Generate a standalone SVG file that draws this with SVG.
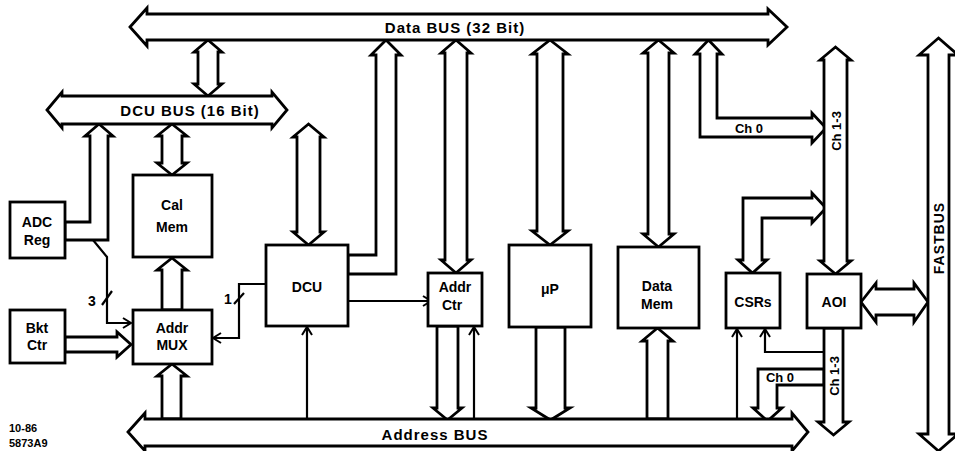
<svg xmlns="http://www.w3.org/2000/svg" width="955" height="451" viewBox="0 0 955 451">
<defs>
<style>
.s{fill:#fff;stroke:#000;stroke-width:2.8;stroke-linejoin:miter}
.b{fill:#fff;stroke:#000;stroke-width:2.8}
.t{fill:none;stroke:#000;stroke-width:2.2}
.l{font-family:"Liberation Sans",Arial,sans-serif;font-weight:bold;font-size:14px;fill:#000;text-anchor:middle}
.bus{font-family:"Liberation Sans",Arial,sans-serif;font-weight:bold;font-size:15px;letter-spacing:1px;fill:#000;text-anchor:middle}
.sm{font-family:"Liberation Sans",Arial,sans-serif;font-weight:bold;font-size:13px;fill:#000;text-anchor:middle}
.ft{font-family:"Liberation Sans",Arial,sans-serif;font-weight:bold;font-size:11px;fill:#000}
</style>
<marker id="v" viewBox="-10 -7 12 14" markerWidth="12" markerHeight="14" refX="0" refY="0" orient="auto" markerUnits="userSpaceOnUse">
<path d="M-8,-5 L0,0 L-8,5" fill="none" stroke="#000" stroke-width="2"/>
</marker>
</defs>
<rect width="955" height="451" fill="#fff"/>

<g id="connectors">
<path class="s" d="M208,40 L222,52 L218,52 L218,84 L222,84 L208,96 L194,84 L198,84 L198,52 L194,52 Z"/>
<path class="s" d="M172,124 L187,136 L182,136 L182,163 L187,163 L172,175 L157,163 L162,163 L162,136 L157,136 Z"/>
<path class="s" d="M172,258 L187,270 L182,270 L182,310 L162,310 L162,270 L157,270 Z"/>
<path class="s" d="M308.5,124 L324,137 L320,137 L320,232 L324,232 L308.5,245 L293,232 L297,232 L297,137 L293,137 Z"/>
<path class="s" d="M99,124 L113,136 L108,136 L108,240 L65,240 L65,222 L90,222 L90,136 L85,136 Z"/>
<path class="s" d="M348,255 L376,255 L376,55 L371,55 L386,40 L401,55 L396,55 L396,274 L348,274 Z"/>
<path class="s" d="M456,40 L471,53 L467,53 L467,260 L471,260 L456,273 L441,260 L445,260 L445,53 L441,53 Z"/>
<path class="s" d="M437,326 L458,326 L458,408 L462,408 L447.5,420 L433,408 L437,408 Z"/>
<path class="s" d="M550,40 L568,54 L563,54 L563,231 L568,231 L550,245 L532,231 L537,231 L537,54 L532,54 Z"/>
<path class="s" d="M536,327 L565,327 L565,408 L570,408 L550.5,420 L531,408 L536,408 Z"/>
<path class="s" d="M658.5,40 L674,53 L669,53 L669,234 L674,234 L658.5,247 L643,234 L648,234 L648,53 L643,53 Z"/>
<path class="s" d="M657.5,328 L673,341 L668,341 L668,419 L647,419 L647,341 L642,341 Z"/>
<path class="s" d="M708.5,40 L722,54 L717,54 L717,118 L812,118 L812,113 L826,128 L812,143 L812,137 L700,137 L700,54 L695,54 Z"/>
<path class="s" d="M826,208 L812,193 L812,198 L743,198 L743,260 L738,260 L752.5,273 L767,260 L762,260 L762,218 L812,218 L812,223 Z"/>
<path class="s" d="M861,302 L876,283 L876,289 L914,289 L914,283 L928,302 L914,322 L914,315 L876,315 L876,322 Z"/>
<path class="s" d="M824,369 L758,369 L758,408 L753,408 L767.5,421 L782,408 L777,408 L777,385 L824,385 Z"/>
<path class="s" d="M65,337 L117,337 L117,332 L131,344.5 L117,357 L117,352 L65,352 Z"/>
<path class="s" d="M172,364 L187,376 L181,376 L181,419 L162,419 L162,376 L157,376 Z"/>
<path class="s" d="M824,328 L843,328 L843,422 L849,422 L833.5,435 L818,422 L824,422 Z"/>
<path class="s" d="M835.5,47 L851,60 L847,60 L847,261 L851,261 L835.5,274 L820,261 L824,261 L824,60 L820,60 Z"/>

<polyline class="t" points="93,240 107,257 107,323 131,323" marker-end="url(#v)"/>
<line class="t" x1="102" y1="305" x2="112" y2="291"/>
<line class="t" x1="348" y1="301" x2="431" y2="301" marker-end="url(#v)"/>
<polyline class="t" points="266,284 239,284 239,338 213,338" marker-end="url(#v)"/>
<line class="t" x1="234" y1="304" x2="244" y2="293"/>
<line class="t" x1="307" y1="419" x2="307" y2="327" marker-end="url(#v)"/>
<line class="t" x1="474" y1="419" x2="474" y2="327" marker-end="url(#v)"/>
<line class="t" x1="737" y1="419" x2="737" y2="329" marker-end="url(#v)"/>
<polyline class="t" points="824,352 765,352 765,329" marker-end="url(#v)"/>

<text class="sm" x="749" y="133">Ch 0</text>
<text class="sm" x="780" y="382">Ch 0</text>
<text class="sm" transform="translate(840.5,131) rotate(-90)">Ch 1-3</text>
<text class="sm" transform="translate(838.5,376) rotate(-90)">Ch 1-3</text>
<text class="l" x="92" y="306">3</text>
<text class="l" x="228" y="304">1</text>
</g>

<g id="data-bus">
<path class="s" d="M130,27 L147,8 L147,14 L768,14 L768,9 L787,27 L768,45 L768,40 L147,40 L147,46 Z"/>
<text class="bus" x="455" y="33">Data BUS (32 Bit)</text>
</g>
<g id="dcu-bus">
<path class="s" d="M47,110 L62,92 L62,96 L272,96 L272,92 L287,110 L272,128 L272,124 L62,124 L62,128 Z"/>
<text class="bus" x="190" y="116">DCU BUS (16 Bit)</text>
</g>
<g id="address-bus">
<path class="s" d="M128,432 L145,413 L145,419 L792,419 L792,413 L808,432 L792,451 L792,446 L145,446 L145,451 Z"/>
<text class="bus" x="435" y="440">Address BUS</text>
</g>
<g id="fastbus">
<path class="s" d="M938.5,38 L958,55 L949,55 L949,434 L958,434 L938.5,451 L919,434 L928,434 L928,55 L919,55 Z"/>
<text class="l" letter-spacing="1" transform="translate(944,238) rotate(-90)">FASTBUS</text>
</g>

<g id="adc-reg"><rect class="b" x="10" y="202" width="55" height="56"/><text class="l" x="37" y="227">ADC</text><text class="l" x="37" y="245">Reg</text></g>
<g id="bkt-ctr"><rect class="b" x="10" y="310" width="55" height="53"/><text class="l" x="37" y="333">Bkt</text><text class="l" x="37" y="350">Ctr</text></g>
<g id="cal-mem"><rect class="b" x="133" y="175" width="79" height="82"/><text class="l" x="172" y="210">Cal</text><text class="l" x="172" y="232">Mem</text></g>
<g id="addr-mux"><rect class="b" x="133" y="310" width="79" height="54"/><text class="l" x="172" y="333">Addr</text><text class="l" x="172" y="350">MUX</text></g>
<g id="dcu"><rect class="b" x="266" y="245" width="82" height="81"/><text class="l" x="307" y="292">DCU</text></g>
<g id="addr-ctr"><rect class="b" x="428" y="273" width="54" height="53"/><text class="l" x="455" y="292">Addr</text><text class="l" x="452" y="310" font-weight="normal">Ctr</text></g>
<g id="up"><rect class="b" x="509" y="245" width="82" height="82"/><text class="l" x="550" y="294">μP</text></g>
<g id="data-mem"><rect class="b" x="618" y="247" width="81" height="81"/><text class="l" x="657" y="291">Data</text><text class="l" x="657" y="309">Mem</text></g>
<g id="csrs"><rect class="b" x="726" y="273" width="54" height="55"/><text class="l" x="753" y="307">CSRs</text></g>
<g id="aoi"><rect class="b" x="807" y="274" width="54" height="54"/><text class="l" x="834" y="307">AOI</text></g>

<g id="footer">
<text class="ft" x="9" y="432">10-86</text>
<text class="ft" x="9" y="447">5873A9</text>
</g>
</svg>
